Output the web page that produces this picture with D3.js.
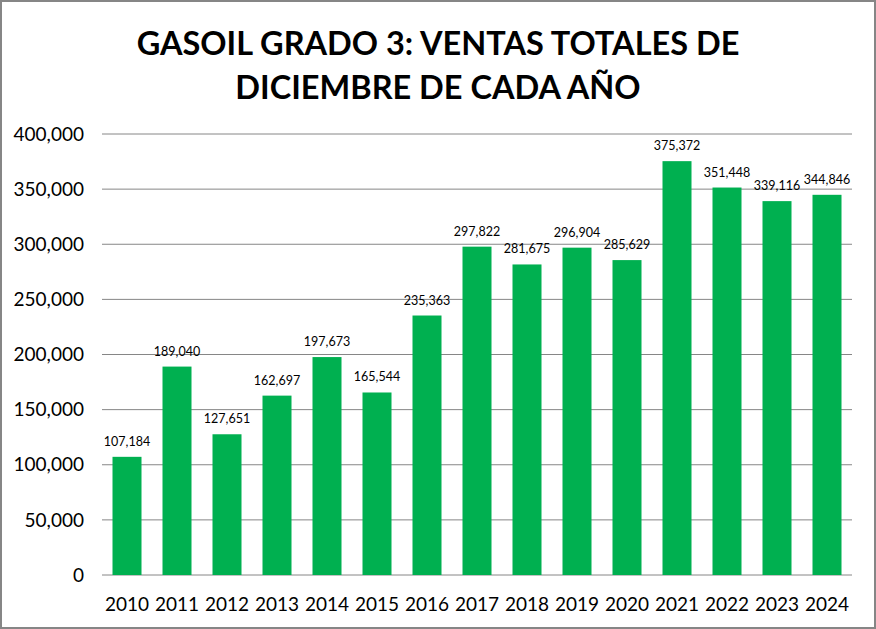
<!DOCTYPE html>
<html><head><meta charset="utf-8">
<script src="https://cdn.jsdelivr.net/npm/d3@7"></script>
<style>body{margin:0;background:#fff}</style>
</head><body>
<script>
const years = ["2010","2011","2012","2013","2014","2015","2016","2017","2018","2019","2020","2021","2022","2023","2024"];
const values = [107184,189040,127651,162697,197673,165544,235363,297822,281675,296904,285629,375372,351448,339116,344846];
const yTicks = [0,50000,100000,150000,200000,250000,300000,350000,400000];
const titleLines = ["GASOIL GRADO 3: VENTAS TOTALES DE","DICIEMBRE DE CADA AÑO"];

(function(){
const W=876,H=629;
const svg=d3.select("body").append("svg").attr("width",W).attr("height",H);
svg.append("rect").attr("x",1).attr("y",1).attr("width",W-2).attr("height",H-2).attr("fill","#fff").attr("stroke","#868686").attr("stroke-width",2);

const pl=102,pr=852,pt=134,pb=575;
const x=d3.scaleBand().domain(years).range([pl,pr]).paddingInner(0.42).paddingOuter(0.21);
const y=d3.scaleLinear().domain([0,400000]).range([pb,pt]);
const fmt=d3.format(",");
const font="Lato, 'Open Sans', sans-serif";

svg.append("g").selectAll("line").data(yTicks).join("line")
  .attr("x1",pl).attr("x2",pr).attr("y1",d=>y(d)).attr("y2",d=>y(d))
  .attr("stroke","#868686").attr("stroke-width",1);

svg.append("g").selectAll("text").data(yTicks).join("text")
  .attr("x",84).attr("y",d=>y(d)).attr("dy","0.35em").attr("text-anchor","end")
  .attr("font-family",font).attr("font-size",19).attr("fill","#000").text(d=>fmt(d));

svg.append("g").selectAll("rect").data(values).join("rect")
  .attr("x",(d,i)=>x(years[i])).attr("width",x.bandwidth())
  .attr("y",d=>y(d)).attr("height",d=>pb-y(d)).attr("fill","#00B050");

svg.append("g").selectAll("text").data(values).join("text")
  .attr("x",(d,i)=>x(years[i])+x.bandwidth()/2).attr("y",d=>y(d)-11)
  .attr("text-anchor","middle").attr("font-family",font).attr("font-size",12.5).attr("fill","#000").text(d=>fmt(d));

svg.append("g").selectAll("text").data(years).join("text")
  .attr("x",d=>x(d)+x.bandwidth()/2).attr("y",604).attr("dy","0.35em")
  .attr("text-anchor","middle").attr("font-family",font).attr("font-size",19).attr("fill","#000").text(d=>d);

svg.append("g").selectAll("text").data(titleLines).join("text")
  .attr("x",438).attr("y",(d,i)=>55+i*44).attr("text-anchor","middle")
  .attr("font-family",font).attr("font-weight","bold").attr("font-size",32.5).attr("fill","#000").text(d=>d);
})();
</script>
</body></html>
